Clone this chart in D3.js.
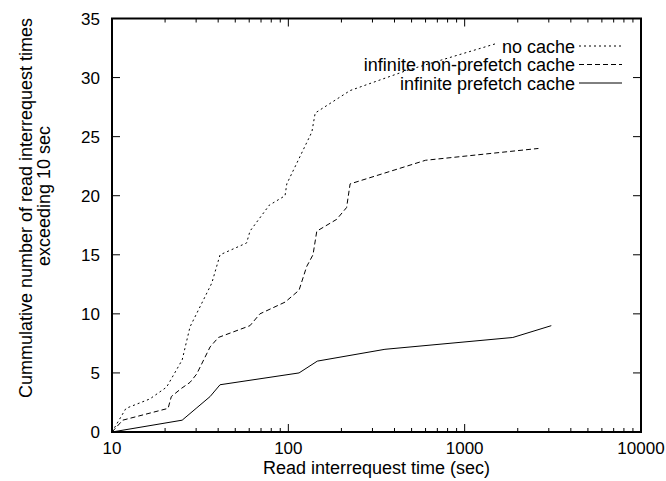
<!DOCTYPE html>
<html>
<head>
<meta charset="utf-8">
<script src="https://cdn.jsdelivr.net/npm/d3@7"></script>
<style>
  body { margin: 0; background: #fff; }
  svg text { font-family: "Liberation Sans", Arial, sans-serif; font-size: 18px; fill: #000; }
  svg text.tick { font-size: 17px; }
</style>
</head>
<body>
<svg id="chart" width="666" height="481"></svg>
<script>
// read interrequest time (sec) vs cumulative count
const noCacheX = [10, 12, 16.4, 20.4, 25, 27.7, 36.8, 41, 58, 60.6, 78, 95.8, 98, 136, 142, 224, 469, 1527];
const noCacheY = [0, 2, 2.8, 3.8, 6.1, 8.9, 12.6, 15, 16, 17, 19.2, 20, 21, 25.4, 27, 28.9, 30.6, 32.9];

const nonPrefetchX = [10, 11.5, 20.8, 21.7, 24.8, 27.7, 30.2, 36, 40.1, 60.6, 69, 96, 115, 127, 138, 145, 188, 214, 224, 600, 2620];
const nonPrefetchY = [0, 1, 2, 3, 3.7, 4.2, 4.9, 7.2, 8, 9, 10, 11, 12, 14, 15, 17, 18, 19, 21, 23, 24];

const prefetchX = [10, 25, 30, 36, 41, 115, 146, 353, 1875, 3100];
const prefetchY = [0, 1, 2, 3, 4, 5, 6, 7, 8, 9];

const seriesNames = ["no cache", "infinite non-prefetch cache", "infinite prefetch cache"];
const dashes = ["2,3", "5,3", null];

const xTicks = [10, 100, 1000, 10000];
const yTicks = [0, 5, 10, 15, 20, 25, 30, 35];

const margin = { top: 18.5, right: 25, bottom: 49, left: 112 };
const width = 666, height = 481;

const svg = d3.select("#chart");

const x = d3.scaleLog()
  .domain([10, 10000])
  .range([margin.left, width - margin.right]);

const y = d3.scaleLinear()
  .domain([0, 35])
  .range([height - margin.bottom, margin.top]);

const x0 = x.range()[0], x1 = x.range()[1];
const y0 = y.range()[0], y1 = y.range()[1];

// minor log ticks
const minor = [];
for (let d = 10; d < 10000; d *= 10) {
  for (let k = 2; k <= 9; k++) minor.push(d * k);
}

const tickG = svg.append("g").attr("stroke", "#000").attr("stroke-width", 1);

minor.forEach(v => {
  tickG.append("line").attr("x1", x(v)).attr("x2", x(v)).attr("y1", y0).attr("y2", y0 - 4);
  tickG.append("line").attr("x1", x(v)).attr("x2", x(v)).attr("y1", y1).attr("y2", y1 + 4);
});
xTicks.forEach(v => {
  tickG.append("line").attr("x1", x(v)).attr("x2", x(v)).attr("y1", y0).attr("y2", y0 - 8);
  tickG.append("line").attr("x1", x(v)).attr("x2", x(v)).attr("y1", y1).attr("y2", y1 + 8);
});
yTicks.forEach(v => {
  tickG.append("line").attr("x1", x0).attr("x2", x0 + 8).attr("y1", y(v)).attr("y2", y(v));
  tickG.append("line").attr("x1", x1).attr("x2", x1 - 8).attr("y1", y(v)).attr("y2", y(v));
});

// tick labels
svg.append("g").selectAll("text")
  .data(xTicks)
  .enter().append("text")
  .attr("class", "tick")
  .attr("x", d => x(d))
  .attr("y", y0 + 22)
  .attr("text-anchor", "middle")
  .text(d => d);

svg.append("g").selectAll("text")
  .data(yTicks)
  .enter().append("text")
  .attr("class", "tick")
  .attr("x", x0 - 12)
  .attr("y", d => y(d) + 6)
  .attr("text-anchor", "end")
  .text(d => d);

// data lines
const line = d3.line()
  .x(d => x(d[0]))
  .y(d => y(d[1]));

const series = [
  d3.zip(noCacheX, noCacheY),
  d3.zip(nonPrefetchX, nonPrefetchY),
  d3.zip(prefetchX, prefetchY)
];

series.forEach((s, i) => {
  svg.append("path")
    .datum(s)
    .attr("d", line)
    .attr("fill", "none")
    .attr("stroke", "#000")
    .attr("stroke-width", 1)
    .attr("stroke-dasharray", dashes[i]);
});

// legend
seriesNames.forEach((name, i) => {
  const ly = 46 + i * 18.5;
  svg.append("text")
    .attr("x", 575)
    .attr("y", ly + 6.5)
    .attr("text-anchor", "end")
    .text(name);
  svg.append("line")
    .attr("x1", 579).attr("x2", 622)
    .attr("y1", ly).attr("y2", ly)
    .attr("stroke", "#000")
    .attr("stroke-width", 1)
    .attr("stroke-dasharray", dashes[i]);
});

// frame
svg.append("rect")
  .attr("x", x0).attr("y", y1)
  .attr("width", x1 - x0).attr("height", y0 - y1)
  .attr("fill", "none")
  .attr("stroke", "#000")
  .attr("stroke-width", 2);

// axis titles
svg.append("text")
  .attr("x", (x0 + x1) / 2)
  .attr("y", 474)
  .attr("text-anchor", "middle")
  .text("Read interrequest time (sec)");

svg.append("text")
  .attr("transform", "translate(31.5,208) rotate(-90)")
  .attr("text-anchor", "middle")
  .text("Cummulative number of read interrequest times");

svg.append("text")
  .attr("transform", "translate(49.5,196) rotate(-90)")
  .attr("text-anchor", "middle")
  .text("exceeding 10 sec");
</script>
</body>
</html>
